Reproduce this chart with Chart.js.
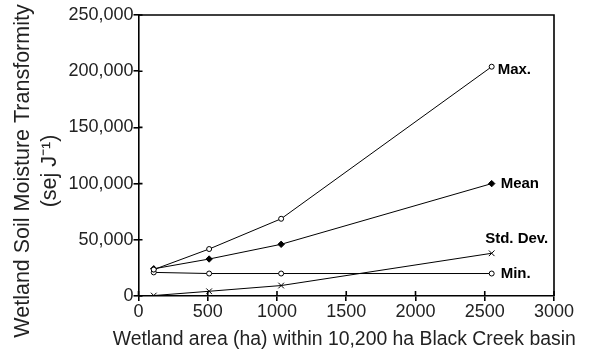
<!DOCTYPE html>
<html>
<head>
<meta charset="utf-8">
<script src="https://cdn.jsdelivr.net/npm/chart.js@4"></script>
<style>
  html, body { margin: 0; padding: 0; background: #fff; }
  #wrap { width: 591px; height: 356px; position: relative; }
</style>
</head>
<body>
<div id="wrap"><canvas id="c" width="591" height="356"></canvas></div>
<script>
// Wetland area (ha) sampled within the Black Creek basin
const areaHa = [110, 510, 1030, 2550];
// Soil moisture transformity statistics (sej J-1)
const maxValues  = [23500, 41800, 68700, 204000];
const meanValues = [24200, 32900, 46000, 100000];
const stdValues  = [400, 4200, 9300, 38000];
const minValues  = [21000, 20000, 20000, 20000];
const seriesNames = ['Max.', 'Mean', 'Std. Dev.', 'Min.'];

const xTicks = [0, 500, 1000, 1500, 2000, 2500, 3000];
const yTicks = [0, 50000, 100000, 150000, 200000, 250000];
const xTitle = 'Wetland area (ha) within 10,200 ha Black Creek basin';
const yTitleLines = ['Wetland Soil Moisture Transformity', '(sej J\u207B\u00B9)'];

const FONT = "'Liberation Sans', Arial, Helvetica, sans-serif";

function pts(vals) { return areaHa.map((x, i) => ({ x: x, y: vals[i] })); }

function ds(label, vals, style, radius, fill) {
  return {
    label: label,
    data: pts(vals),
    showLine: true,
    borderColor: '#000',
    borderWidth: 1,
    pointStyle: style,
    pointRadius: radius,
    pointBackgroundColor: fill,
    pointBorderColor: '#000',
    pointBorderWidth: 1,
    tension: 0
  };
}

// Axis frame, inward tick stubs, series end labels and the axis titles
const decorations = {
  id: 'decorations',
  afterDraw(chart) {
    const ctx = chart.ctx;
    const a = chart.chartArea;
    const xs = chart.scales.x, ys = chart.scales.y;
    ctx.save();
    ctx.strokeStyle = '#000';
    ctx.lineWidth = 1.6;
    ctx.beginPath();
    ctx.moveTo(a.left, a.top); ctx.lineTo(a.right, a.top); ctx.lineTo(a.right, a.bottom);
    ctx.stroke();
    ctx.beginPath();
    yTicks.forEach(v => { const y = ys.getPixelForValue(v); ctx.moveTo(a.left, y); ctx.lineTo(a.left + 4, y); });
    xTicks.forEach(v => { const x = xs.getPixelForValue(v); ctx.moveTo(x, a.bottom); ctx.lineTo(x, a.bottom - 5); });
    ctx.stroke();

    // series names next to their last point
    ctx.fillStyle = '#000';
    ctx.font = 'bold 15px ' + FONT;
    ctx.textBaseline = 'middle';
    const lastX = xs.getPixelForValue(areaHa[areaHa.length - 1]);
    const lastY = arr => ys.getPixelForValue(arr[arr.length - 1]);
    ctx.textAlign = 'left';
    ctx.fillText(seriesNames[0], lastX + 6, lastY(maxValues) + 3);
    ctx.fillText(seriesNames[1], lastX + 9, lastY(meanValues));
    ctx.fillText(seriesNames[3], lastX + 9, lastY(minValues));
    ctx.textAlign = 'center';
    ctx.fillText(seriesNames[2], lastX + 25, lastY(stdValues) - 14);

    // x axis title
    ctx.fillStyle = '#222';
    ctx.font = '19.4px ' + FONT;
    ctx.textAlign = 'center';
    ctx.fillText(xTitle, (a.left + a.right) / 2 - 2, 340);

    // y axis title, two centred lines
    ctx.font = '21.5px ' + FONT;
    const cy = 171;
    [[23, yTitleLines[0]], [50, yTitleLines[1]]].forEach(([cx, txt]) => {
      ctx.save();
      ctx.translate(cx, cy);
      ctx.rotate(-Math.PI / 2);
      ctx.fillText(txt, 0, 0);
      ctx.restore();
    });
    ctx.restore();
  }
};

new Chart(document.getElementById('c'), {
  type: 'scatter',
  data: {
    datasets: [
      ds(seriesNames[0], maxValues, 'circle', 2.5, '#fff'),
      ds(seriesNames[1], meanValues, 'rectRot', 3.2, '#000'),
      ds(seriesNames[2], stdValues, 'crossRot', 4, '#000'),
      ds(seriesNames[3], minValues, 'circle', 2.5, '#fff')
    ]
  },
  options: {
    responsive: false,
    animation: false,
    layout: { padding: { top: 15, right: 37, left: 0, bottom: 0 } },
    plugins: { legend: { display: false }, tooltip: { enabled: false } },
    scales: {
      x: {
        type: 'linear',
        min: 0, max: 3000,
        afterBuildTicks(s) { s.ticks = xTicks.map(v => ({ value: v })); },
        afterFit(s) { s.height = 60; },
        border: { display: true, color: '#000', width: 1.6 },
        grid: { drawOnChartArea: false, drawTicks: true, tickLength: 5, color: '#000', lineWidth: 1.6 },
        ticks: { color: '#222', font: { family: FONT, size: 18 }, padding: 0, maxRotation: 0,
                 callback: v => String(v) }
      },
      y: {
        type: 'linear',
        min: 0, max: 250000,
        afterBuildTicks(s) { s.ticks = yTicks.map(v => ({ value: v })); },
        afterFit(s) { s.width = 138.5; },
        border: { display: true, color: '#000', width: 1.6 },
        grid: { drawOnChartArea: false, drawTicks: true, tickLength: 5, color: '#000', lineWidth: 1.6 },
        ticks: { color: '#222', font: { family: FONT, size: 18 }, padding: 0,
                 callback: v => v.toLocaleString('en-US') }
      }
    }
  },
  plugins: [decorations]
});
</script>
</body>
</html>
